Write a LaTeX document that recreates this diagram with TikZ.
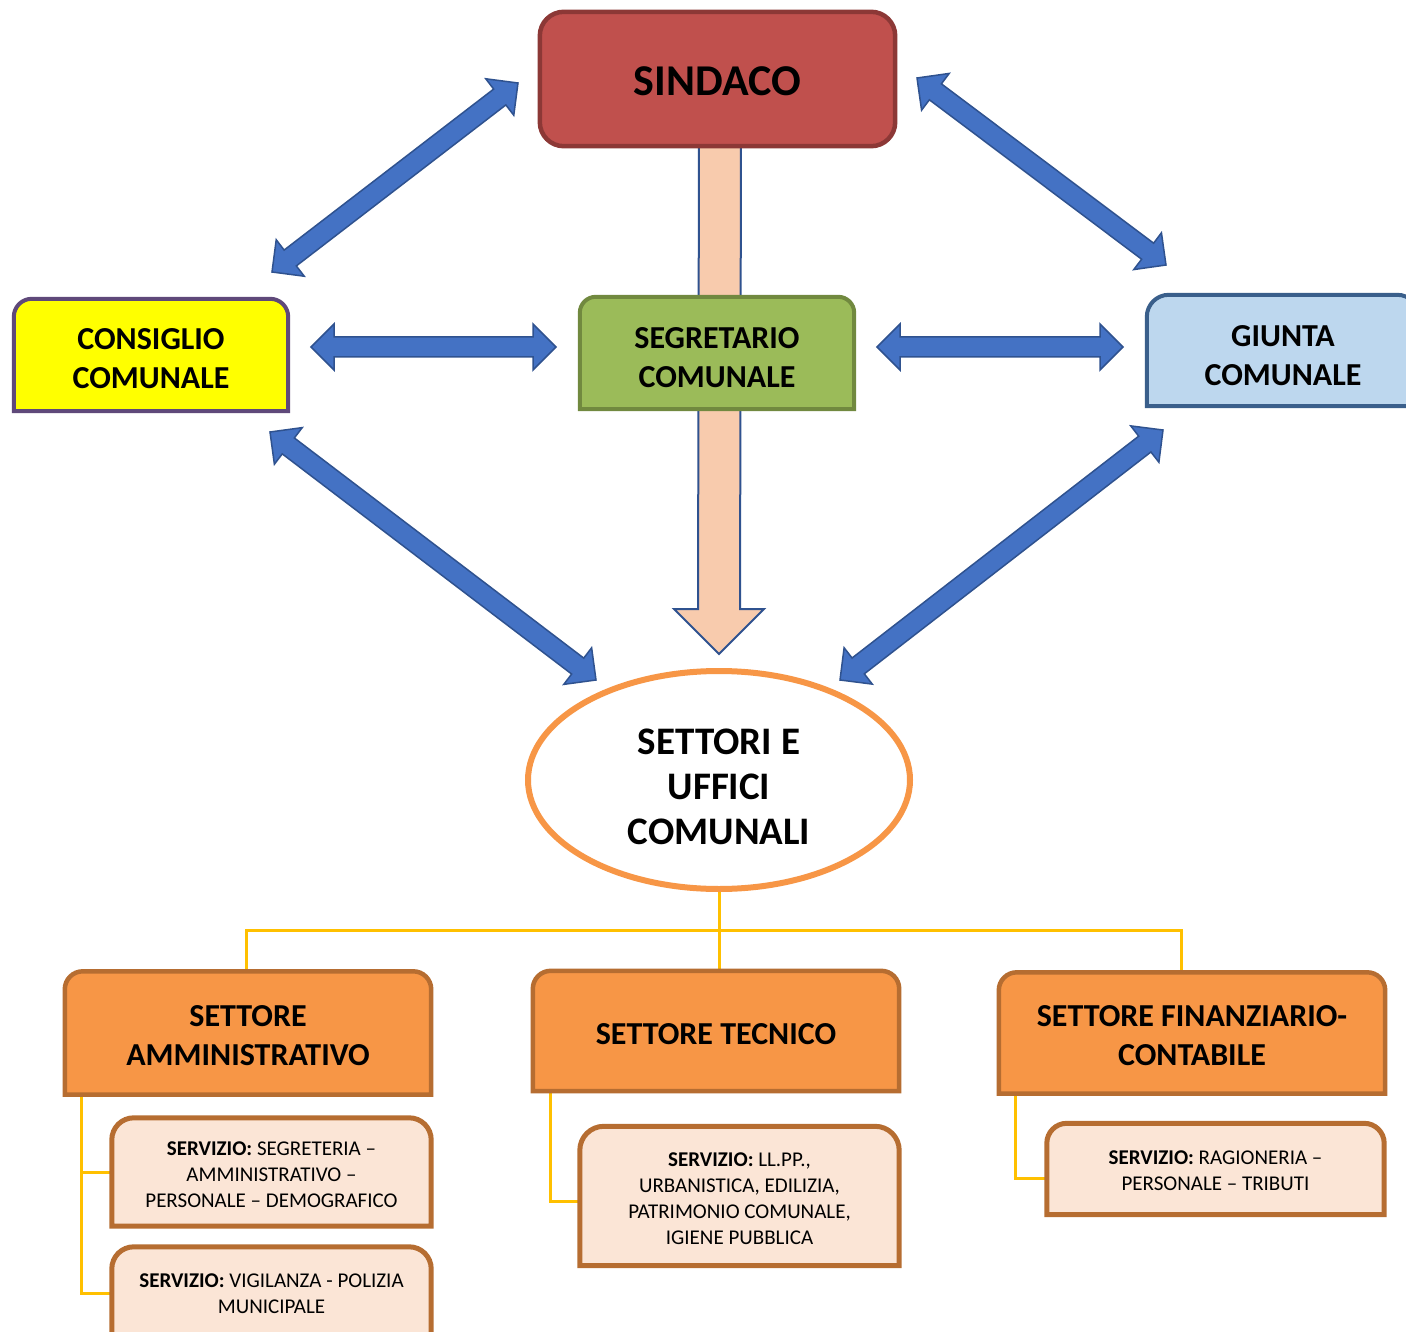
\documentclass[tikz,border=0pt]{standalone}
\usepackage{fontspec}
\setmainfont{Carlito}
\usetikzlibrary{calc,shapes.geometric}
\definecolor{sinF}{HTML}{C0504D}\definecolor{sinD}{HTML}{8C3836}
\definecolor{conF}{HTML}{FFFF00}\definecolor{conD}{HTML}{5F497A}
\definecolor{segF}{HTML}{9BBB59}\definecolor{segD}{HTML}{71893F}
\definecolor{giuF}{HTML}{BDD7EE}\definecolor{giuD}{HTML}{3A5F8B}
\definecolor{bluF}{HTML}{4472C4}\definecolor{bluD}{HTML}{2F528F}
\definecolor{peaF}{HTML}{F8CBAD}
\definecolor{oraF}{HTML}{F79646}\definecolor{oraD}{HTML}{B66D31}
\definecolor{serF}{HTML}{FBE5D6}
\definecolor{yel}{HTML}{FFC000}
\pgfdeclarelayer{bg}\pgfdeclarelayer{mid}\pgfsetlayers{bg,mid,main}
\newcommand\rtbox[3]{\path[#2] (#1.south west) -- (#1.west) [rounded corners=#3] -- (#1.north west) -- (#1.north east) -- (#1.east) [sharp corners] -- (#1.south east) -- cycle;}
\newcommand\blockarrow[2]{%
 \coordinate (ba1) at ($(#1)!23pt!(#2)$);
 \coordinate (ba2) at ($(#2)!23pt!(#1)$);
 \path[blk] (#1) -- ($(ba1)!23pt!90:(#2)$) -- ($(ba1)!10pt!90:(#2)$) -- ($(ba2)!10pt!-90:(#1)$) -- ($(ba2)!23pt!-90:(#1)$) -- (#2) -- ($(ba2)!23pt!90:(#1)$) -- ($(ba2)!10pt!90:(#1)$) -- ($(ba1)!10pt!-90:(#2)$) -- ($(ba1)!23pt!-90:(#2)$) -- cycle;}
\begin{document}
\begin{tikzpicture}[x=1pt,y=-1pt,
  boxn/.style={inner sep=0pt},
  txt/.style={inner sep=0pt, align=center, text=black},
  big/.style={txt, font=\fontsize{32}{39}\selectfont\bfseries},
  small/.style={txt, font=\fontsize{21}{26}\selectfont},
  blk/.style={fill=bluF, draw=bluD, line width=1.5pt, line join=miter},
  yline/.style={draw=yel, line width=3pt},
  settore/.style={fill=oraF, draw=oraD, line width=4.5pt},
  servizio/.style={fill=serF, draw=oraD, line width=5pt}]
\useasboundingbox (0,0) rectangle (1406,1332);
\clip (0,0) rectangle (1406,1332);
% box nodes
\node[boxn, minimum width=355pt, minimum height=134pt] (sin) at (717.5,79) {};
\node[boxn, minimum width=274pt, minimum height=112pt] (con) at (151,355) {};
\node[boxn, minimum width=274pt, minimum height=112pt] (seg) at (717,353) {};
\node[boxn, minimum width=272pt, minimum height=111pt] (giu) at (1283,350.5) {};
\node[ellipse, draw=oraF, fill=white, line width=6pt, inner sep=0pt, minimum width=382pt, minimum height=218pt] (ell) at (719,780) {};
\node[boxn, minimum width=366pt, minimum height=123pt] (amm) at (248,1033) {};
\node[boxn, minimum width=366pt, minimum height=120pt] (tec) at (716,1031) {};
\node[boxn, minimum width=386pt, minimum height=121pt] (fin) at (1192,1033) {};
\node[boxn, minimum width=319pt, minimum height=108pt] (s1) at (271.5,1172) {};
\node[boxn, minimum width=319pt, minimum height=92pt] (s2) at (271.5,1293) {};
\node[boxn, minimum width=319pt, minimum height=139pt] (s3) at (739.5,1196) {};
\node[boxn, minimum width=337pt, minimum height=91pt] (s4) at (1215.5,1169) {};
% texts
\node[txt, font=\fontsize{44}{53}\selectfont\bfseries] (sin-t) at ($(sin)+(0,2)$) {SINDACO};
\node[big] (con-t) at ($(con)+(0,4)$) {CONSIGLIO\\COMUNALE};
\node[big] (seg-t) at ($(seg)+(0,5)$) {SEGRETARIO\\COMUNALE};
\node[big] (giu-t) at ($(giu)+(0,5)$) {GIUNTA\\COMUNALE};
\node[txt, font=\fontsize{39}{45}\selectfont\bfseries] (ell-t) at ($(ell)+(0,7)$) {SETTORI E\\UFFICI\\COMUNALI};
\node[big] (amm-t) at ($(amm)+(0,3)$) {SETTORE\\AMMINISTRATIVO};
\node[big] (tec-t) at ($(tec)+(0,3)$) {SETTORE TECNICO};
\node[big] (fin-t) at ($(fin)+(0,3)$) {SETTORE FINANZIARIO-\\CONTABILE};
\node[small] (s1-t) at ($(s1)+(0,3)$) {\textbf{SERVIZIO:} SEGRETERIA –\\AMMINISTRATIVO –\\PERSONALE – DEMOGRAFICO};
\node[small] (s2-t) at ($(s2)+(0,1)$) {\textbf{SERVIZIO:} VIGILANZA - POLIZIA\\MUNICIPALE};
\node[small] (s3-t) at ($(s3)+(0,3)$) {\textbf{SERVIZIO:} LL.PP.,\\URBANISTICA, EDILIZIA,\\PATRIMONIO COMUNALE,\\IGIENE PUBBLICA};
\node[small] (s4-t) at ($(s4)+(0,2)$) {\textbf{SERVIZIO:} RAGIONERIA –\\PERSONALE – TRIBUTI};
% box shapes
\begin{pgfonlayer}{mid}
\path[fill=sinF, draw=sinD, line width=4.5pt, rounded corners=24pt] (sin.south west) rectangle (sin.north east);
\rtbox{con}{fill=conF, draw=conD, line width=4pt}{18pt}
\rtbox{seg}{fill=segF, draw=segD, line width=4pt}{16pt}
\rtbox{giu}{fill=giuF, draw=giuD, line width=4pt}{22pt}
\rtbox{amm}{settore}{18pt}
\rtbox{tec}{settore}{18pt}
\rtbox{fin}{settore}{18pt}
\rtbox{s1}{servizio}{22pt}
\rtbox{s2}{servizio}{22pt}
\rtbox{s3}{servizio}{24pt}
\rtbox{s4}{servizio}{20pt}
\end{pgfonlayer}
% big peach arrow Sindaco -> Settori
\begin{pgfonlayer}{bg}
\coordinate (pt) at ($(ell.north)+(0,-14)$);
\path[fill=peaF, draw=bluD, line width=2pt, line join=miter]
  ($(sin.south)+(-18.5,-10)$) -- ($(pt)+(-21,-45)$) -- ($(pt)+(-45,-45)$) -- (pt) -- ($(pt)+(45,-45)$) -- ($(pt)+(21,-45)$) -- ($(sin.south)+(23.5,-10)$) -- cycle;
\end{pgfonlayer}
% blue double arrows
\coordinate (a1s) at (272,272); \coordinate (a1e) at (518,83);
\coordinate (a2s) at (917,78);  \coordinate (a2e) at (1166,265);
\coordinate (a3s) at (311,347); \coordinate (a3e) at (556,347);
\coordinate (a4s) at (877,347); \coordinate (a4e) at (1123,347);
\coordinate (a5s) at (270,432); \coordinate (a5e) at (596,680);
\coordinate (a6s) at (1163,430);\coordinate (a6e) at (840,680);
\blockarrow{a1s}{a1e}
\blockarrow{a2s}{a2e}
\blockarrow{a3s}{a3e}
\blockarrow{a4s}{a4e}
\blockarrow{a5s}{a5e}
\blockarrow{a6s}{a6e}
% yellow connectors
\coordinate (jn) at (ell.south |- 0,930);
\begin{pgfonlayer}{bg}
\draw[yline] (ell.south) -- (ell.south |- tec.north);
\draw[yline] (jn) -| ($(amm.north)+(-2,0)$);
\draw[yline] (jn) -| ($(fin.north)+(-11,0)$);
\draw[yline] ($(amm.south west)+(17,0)$) |- (s1.west);
\draw[yline] ($(amm.south west)+(17,0)$) |- (s2.west);
\draw[yline] ($(tec.south west)+(18,0)$) |- ($(s3.west)+(0,5)$);
\draw[yline] ($(fin.south west)+(17,0)$) |- ($(s4.west)+(0,9)$);
\end{pgfonlayer}
\end{tikzpicture}
\end{document}
